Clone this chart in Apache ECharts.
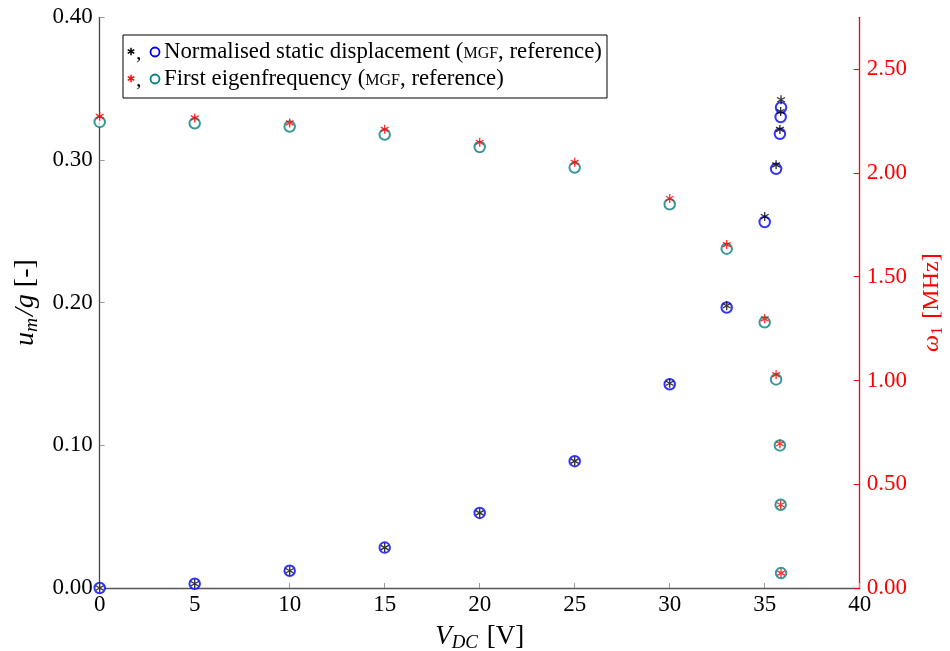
<!DOCTYPE html>
<html>
<head>
<meta charset="utf-8">
<script src="https://cdn.jsdelivr.net/npm/echarts@6/dist/echarts.min.js"></script>
<style>html,body{margin:0;padding:0;background:#fff}#c{width:950px;height:651px}</style>
</head>
<body>
<div id="c"></div>
<script>
const voltage = [0, 5, 10, 15, 20, 25, 30, 33, 35, 35.6, 35.8, 35.84, 35.86];
const dispRef = [0, 0.0030, 0.0121, 0.0283, 0.0526, 0.0889, 0.1428, 0.1966, 0.2565, 0.2938, 0.3184, 0.3301, 0.3368];
const dispMgf = [0, 0.0030, 0.0121, 0.0283, 0.0526, 0.0889, 0.1435, 0.1978, 0.2604, 0.2966, 0.3214, 0.3340, 0.3422];
const freqRef = [2.246, 2.239, 2.224, 2.185, 2.125, 2.026, 1.849, 1.635, 1.280, 1.005, 0.687, 0.401, 0.072];
const freqMgf = [2.273, 2.265, 2.241, 2.210, 2.148, 2.051, 1.877, 1.655, 1.297, 1.028, 0.695, 0.401, 0.072];
const xTicks = {min: 0, max: 40, step: 5};
const leftTicks = {min: 0, max: 0.40, step: 0.10};
const rightTicks = {min: 0, max: 2.75, step: 0.50};
const legendLabels = ['Normalised static displacement (', 'First eigenfrequency ('];

const FONT = 'Liberation Serif';
const STAR = 'path://M-0.15,-1L0.15,-1L0.15,1L-0.15,1Z M0.791,-0.630L0.941,-0.370L-0.791,0.630L-0.941,0.370Z M0.941,0.370L0.791,0.630L-0.941,-0.370L-0.791,-0.630Z';
const pairs = (ys) => voltage.map((v, i) => [v, ys[i]]);

function starLines(cx, cy, r, color) {
  const out = [];
  for (let k = 0; k < 3; k++) {
    const a = Math.PI / 2 + k * Math.PI / 3;
    const dx = r * Math.cos(a), dy = r * Math.sin(a);
    out.push({type: 'line', z: 101, shape: {x1: cx - dx, y1: cy - dy, x2: cx + dx, y2: cy + dy},
      style: {stroke: color, lineWidth: 1.5}});
  }
  return out;
}

const chart = echarts.init(document.getElementById('c'));
const axisBase = {
  axisTick: {inside: true, length: 5, lineStyle: {color: '#999'}},
  splitLine: {show: false},
  axisLabel: {fontFamily: FONT, fontSize: 23, color: '#000', margin: 7}
};
const legendText = (label) => ({
  text: '{t|' + label + '}{sc|MGF}{t|, reference)}', verticalAlign: 'middle',
  rich: {t: {fontFamily: FONT, fontSize: 22.8, fill: '#000'}, sc: {fontFamily: FONT, fontSize: 16, fill: '#000', padding: [3, 0, 0, 0]}}
});
const mathRich = (color, size) => ({
  i: {fontFamily: FONT, fontStyle: 'italic', fontSize: size, lineHeight: size + 5, color: color},
  si: {fontFamily: FONT, fontStyle: 'italic', fontSize: size * 0.7, lineHeight: size * 0.7, padding: [size * 0.45, 2, 0, 0], color: color},
  s: {fontFamily: FONT, fontSize: size * 0.7, lineHeight: size * 0.7, padding: [size * 0.45, 2, 0, 0], color: color},
  r: {fontFamily: FONT, fontSize: size, lineHeight: size + 5, color: color}
});
chart.setOption({
  animation: false,
  backgroundColor: '#fff',
  grid: {left: 99.7, right: 90.3, top: 17.3, bottom: 63, outerBoundsMode: 'none', containLabel: false},
  xAxis: Object.assign({}, axisBase, {
    type: 'value', min: xTicks.min, max: xTicks.max, interval: xTicks.step,
    axisLine: {lineStyle: {color: '#555', width: 1.3}},
    axisLabel: Object.assign({}, axisBase.axisLabel, {margin: 5}),
    name: '{i|V}{si|DC}{r| [V]}', nameLocation: 'middle', nameGap: 28,
    nameTextStyle: {rich: mathRich('#000', 27)}
  }),
  yAxis: [
    Object.assign({}, axisBase, {
      type: 'value', position: 'left', min: leftTicks.min, max: leftTicks.max, interval: leftTicks.step,
      axisLine: {show: true, lineStyle: {color: '#444', width: 1.3}},
      axisLabel: Object.assign({}, axisBase.axisLabel, {formatter: v => v.toFixed(2)}),
      name: '{i|u}{si|m}{i|/g}{r| [-]}', nameLocation: 'middle', nameGap: 57, nameRotate: 90,
      nameTextStyle: {rich: mathRich('#000', 28)}
    }),
    Object.assign({}, axisBase, {
      type: 'value', position: 'right', min: rightTicks.min, max: rightTicks.max, interval: rightTicks.step,
      axisLine: {show: true, lineStyle: {color: '#f00', width: 1.3}},
      axisTick: {inside: true, length: 6, lineStyle: {color: '#f00'}},
      axisLabel: Object.assign({}, axisBase.axisLabel, {color: '#f00', showMaxLabel: false, formatter: v => v.toFixed(2)}),
      name: '{i|ω}{s|1}{r| [MHz]}', nameLocation: 'middle', nameGap: 56, nameRotate: 90,
      nameTextStyle: {rich: mathRich('#f00', 24)}
    })
  ],
  series: [
    {type: 'scatter', yAxisIndex: 0, data: pairs(dispRef), symbol: 'emptyCircle', symbolSize: 10.5,
      itemStyle: {color: '#00f', borderColor: '#00f', borderWidth: 1.8}},
    {type: 'scatter', yAxisIndex: 1, data: pairs(freqRef), symbol: 'emptyCircle', symbolSize: 10.5,
      itemStyle: {color: '#008080', borderColor: '#008080', borderWidth: 1.8}},
    {type: 'scatter', yAxisIndex: 0, data: pairs(dispMgf), symbol: STAR, symbolSize: 9, symbolKeepAspect: true,
      itemStyle: {color: '#000'}},
    {type: 'scatter', yAxisIndex: 1, data: pairs(freqMgf), symbol: STAR, symbolSize: 9, symbolKeepAspect: true,
      itemStyle: {color: '#f00'}}
  ],
  graphic: [
    {type: 'rect', shape: {x: 123, y: 35, width: 484, height: 63}, style: {fill: '#fff', stroke: '#000', lineWidth: 1}, z: 100},
    ...starLines(131, 51.5, 3.8, '#000'),
    ...starLines(131, 78.5, 3.8, '#f00'),
    {type: 'circle', shape: {cx: 155, cy: 52, r: 4.5}, style: {fill: 'none', stroke: '#00f', lineWidth: 1.8}, z: 101},
    {type: 'circle', shape: {cx: 155, cy: 79, r: 4.5}, style: {fill: 'none', stroke: '#008080', lineWidth: 1.8}, z: 101},
    {type: 'text', x: 136, y: 53, style: {text: ',', fontFamily: FONT, fontSize: 22, fill: '#000', verticalAlign: 'middle'}, z: 101},
    {type: 'text', x: 136, y: 80, style: {text: ',', fontFamily: FONT, fontSize: 22, fill: '#000', verticalAlign: 'middle'}, z: 101},
    {type: 'text', x: 164, y: 52, z: 101, style: legendText(legendLabels[0])},
    {type: 'text', x: 164, y: 79, z: 101, style: legendText(legendLabels[1])}
  ]
});
</script>
</body>
</html>
